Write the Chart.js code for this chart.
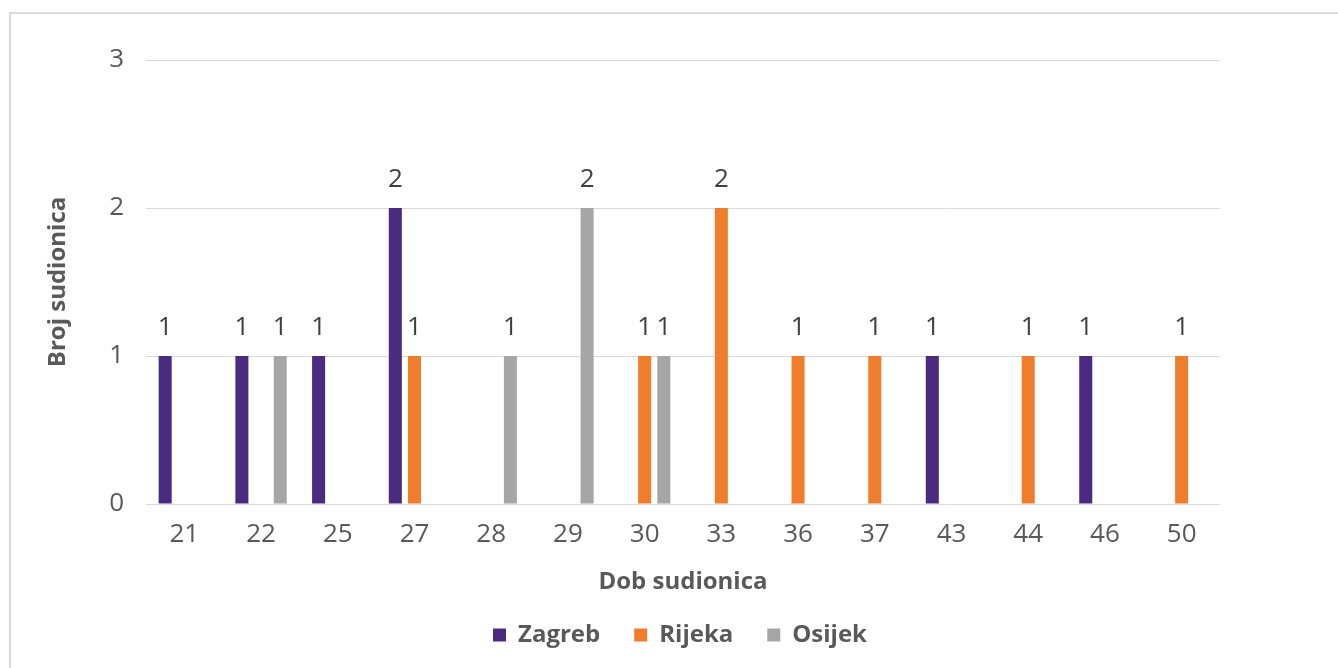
<!DOCTYPE html>
<html><head><meta charset="utf-8">
<script src="https://cdn.jsdelivr.net/npm/chart.js@4.4.0/dist/chart.umd.min.js"></script>
<style>
html,body{margin:0;padding:0;background:#fff;overflow:hidden;width:1338px;height:668px;}
#frame{position:absolute;left:9px;top:12px;width:1340px;height:700px;border:2px solid #d9d9d9;box-sizing:border-box;}
#c{position:absolute;left:0;top:0;}
</style></head><body>
<div id="frame"></div>
<canvas id="c" width="1338" height="668"></canvas>
<script>
const categories = ['21','22','25','27','28','29','30','33','36','37','43','44','46','50'];
const zagreb = [1,1,1,2,null,null,null,null,null,null,1,null,1,null];
const rijeka = [null,null,null,1,null,null,1,2,1,1,null,1,null,1];
const osijek = [null,1,null,null,1,2,1,null,null,null,null,null,null,null];
const seriesNames = ['Zagreb','Rijeka','Osijek'];
const seriesColors = ['#4a2b80','#ef7d2c','#a6a6a6'];
const yMin = 0, yMax = 3, yStep = 1;
const xTitle = 'Dob sudionica';
const yTitle = 'Broj sudionica';

const valueLabels = {
  id: 'valueLabels',
  afterDatasetsDraw(chart) {
    const ctx = chart.ctx;
    ctx.save();
    ctx.font = '26px "Open Sans"';
    ctx.fillStyle = '#404040';
    ctx.textAlign = 'center';
    ctx.textBaseline = 'middle';
    chart.data.datasets.forEach((ds, i) => {
      const meta = chart.getDatasetMeta(i);
      meta.data.forEach((bar, j) => {
        const v = ds.data[j];
        if (v == null || v === 0) return;
        ctx.fillText(String(v), bar.x, bar.y - 28);
      });
    });
    ctx.restore();
  }
};

const allSeries = [zagreb, rijeka, osijek];
new Chart(document.getElementById('c'), {
  type: 'bar',
  data: {
    labels: categories,
    datasets: allSeries.map((d, i) => ({
      label: seriesNames[i],
      data: d,
      backgroundColor: seriesColors[i],
      borderWidth: 0,
      categoryPercentage: 0.75,
      barPercentage: 0.68
    }))
  },
  options: {
    responsive: false,
    animation: false,
    devicePixelRatio: 1,
    layout: { padding: { left: 22, right: 0, top: 60, bottom: 11 } },
    plugins: {
      tooltip: { enabled: false },
      legend: {
        position: 'bottom',
        labels: {
          boxWidth: 13,
          boxHeight: 13,
          padding: 34,
          color: '#595959',
          font: { family: '"Open Sans"', size: 24, weight: 'bold' }
        }
      }
    },
    scales: {
      x: {
        grid: { display: false },
        border: { display: false },
        ticks: { color: '#595959', padding: 7, font: { family: '"Open Sans"', size: 26 } },
        title: { display: true, text: xTitle, color: '#595959', padding: { top: 0, bottom: -8 }, font: { family: '"Open Sans"', size: 24, weight: 'bold' } },
        afterFit(s) { s.height = 85; }
      },
      y: {
        min: yMin, max: yMax,
        grid: { color: '#d9d9d9', lineWidth: 1, drawTicks: false },
        border: { display: false },
        ticks: { stepSize: yStep, color: '#595959', padding: 22, font: { family: '"Open Sans"', size: 26 } },
        title: { display: true, text: yTitle, color: '#595959', padding: { top: 22, bottom: 0 }, font: { family: '"Open Sans"', size: 24, weight: 'bold' } },
        afterFit(s) { s.width = 124; }
      },
      yRight: {
        position: 'right',
        display: true,
        grid: { display: false },
        border: { display: false },
        ticks: { display: false },
        afterFit(s) { s.width = 118; }
      }
    }
  },
  plugins: [valueLabels]
});
</script>
</body></html>
